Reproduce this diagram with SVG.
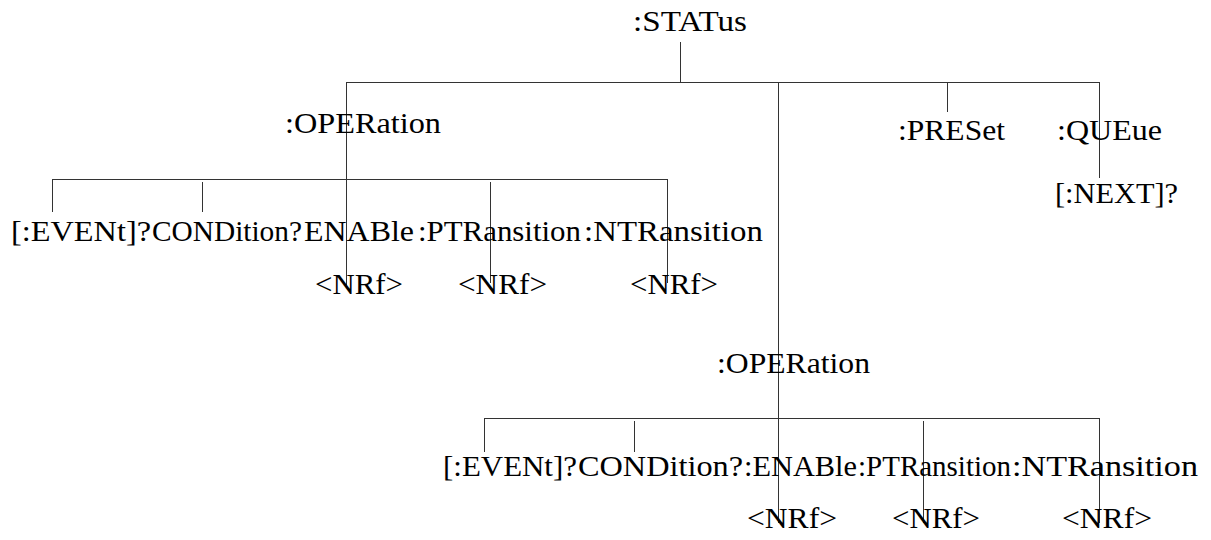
<svg xmlns="http://www.w3.org/2000/svg" width="1211" height="540" viewBox="0 0 1211 540">
<style>
text{font-family:'Liberation Serif','Times New Roman',serif;font-size:30px;fill:#000}
.c path{stroke:#333;stroke-width:1;fill:none}
</style>
<rect width="1211" height="540" fill="#fff"/>
<g class="c" id="connectors">
<path d="M680.5 42V82.5"/>
<path d="M346.5 82.5H1099.5"/>
<path d="M346.5 82V285"/>
<path d="M778.5 82V523"/>
<path d="M947.5 82V112"/>
<path d="M1099.5 82V178"/>
<path d="M52.5 179.5H667.5"/>
<path d="M52.5 179V212"/>
<path d="M202.5 182V212"/>
<path d="M490.5 182V283"/>
<path d="M667.5 179V283"/>
<path d="M484.5 418.5H1099.5"/>
<path d="M484.5 418V452"/>
<path d="M634.5 421V452"/>
<path d="M923.5 421V523"/>
<path d="M1099.5 418V523"/>
</g>
<g id="n-status"><text x="633" y="31" textLength="114" lengthAdjust="spacingAndGlyphs">:STATus</text></g>
<g id="n-operation1"><text x="285" y="133" textLength="156" lengthAdjust="spacingAndGlyphs">:OPERation</text></g>
<g id="n-preset"><text x="898" y="140" textLength="107" lengthAdjust="spacingAndGlyphs">:PRESet</text></g>
<g id="n-queue"><text x="1057" y="140" textLength="105" lengthAdjust="spacingAndGlyphs">:QUEue</text></g>
<g id="n-next"><text x="1055" y="203" textLength="123" lengthAdjust="spacingAndGlyphs">[:NEXT]?</text></g>
<g id="n-event1"><text x="11" y="241" textLength="140" lengthAdjust="spacingAndGlyphs">[:EVENt]?</text></g>
<g id="n-condition1"><text x="152" y="241" textLength="150" lengthAdjust="spacingAndGlyphs">CONDition?</text></g>
<g id="n-enable1"><text x="304" y="241" textLength="110" lengthAdjust="spacingAndGlyphs">ENABle</text></g>
<g id="n-ptrans1"><text x="418" y="241" textLength="163" lengthAdjust="spacingAndGlyphs">:PTRansition</text></g>
<g id="n-ntrans1"><text x="584" y="241" textLength="179" lengthAdjust="spacingAndGlyphs">:NTRansition</text></g>
<g id="n-nrf1a"><text x="315" y="294" textLength="88" lengthAdjust="spacingAndGlyphs">&lt;NRf&gt;</text></g>
<g id="n-nrf1b"><text x="458" y="294" textLength="89" lengthAdjust="spacingAndGlyphs">&lt;NRf&gt;</text></g>
<g id="n-nrf1c"><text x="630" y="294" textLength="88" lengthAdjust="spacingAndGlyphs">&lt;NRf&gt;</text></g>
<g id="n-operation2"><text x="717" y="373" textLength="153" lengthAdjust="spacingAndGlyphs">:OPERation</text></g>
<g id="n-event2"><text x="443" y="476" textLength="134" lengthAdjust="spacingAndGlyphs">[:EVENt]?</text></g>
<g id="n-condition2"><text x="578" y="476" textLength="165" lengthAdjust="spacingAndGlyphs">CONDition?</text></g>
<g id="n-enable2"><text x="744" y="476" textLength="113" lengthAdjust="spacingAndGlyphs">:ENABle</text></g>
<g id="n-ptrans2"><text x="858" y="476" textLength="153" lengthAdjust="spacingAndGlyphs">:PTRansition</text></g>
<g id="n-ntrans2"><text x="1012" y="476" textLength="186" lengthAdjust="spacingAndGlyphs">:NTRansition</text></g>
<g id="n-nrf2a"><text x="747" y="528" textLength="90" lengthAdjust="spacingAndGlyphs">&lt;NRf&gt;</text></g>
<g id="n-nrf2b"><text x="892" y="528" textLength="88" lengthAdjust="spacingAndGlyphs">&lt;NRf&gt;</text></g>
<g id="n-nrf2c"><text x="1062" y="528" textLength="90" lengthAdjust="spacingAndGlyphs">&lt;NRf&gt;</text></g>
</svg>
